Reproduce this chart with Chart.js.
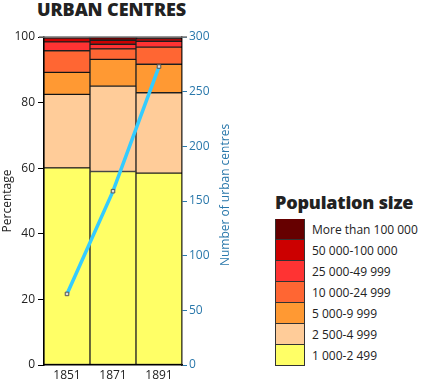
<!DOCTYPE html>
<html>
<head>
<meta charset="utf-8">
<script src="https://cdn.jsdelivr.net/npm/chart.js@4"></script>
<style>
  body { margin: 0; width: 421px; height: 385px; background: #fff; font-family: "Open Sans", sans-serif; overflow: hidden; }
  #wrap { position: absolute; left: 0; top: 0; width: 240px; height: 385px; }
  #title { position: absolute; left: 37px; top: -3px; font-size: 18px; font-weight: 800; color: #222; letter-spacing: -0.1px; }
  #legend { position: absolute; left: 275px; top: 190px; color: #222; }
  #legend .head { font-size: 18px; font-weight: 800; margin-bottom: 5px; letter-spacing: -0.2px; }
  #legend .row { display: flex; align-items: center; height: 21px; }
  #legend .box { width: 28px; height: 20px; border: 1px solid #333; border-top-width: 0; box-sizing: content-box; margin-right: 7px; }
  #legend .row:first-of-type .box { border-top-width: 1px; }
  #legend .lab { font-size: 12px; }
</style>
</head>
<body>
<div id="title">URBAN CENTRES</div>
<div id="wrap"><canvas id="urbanChart"></canvas></div>
<div id="legend"></div>
<script>
const years = ["1851", "1871", "1891"];
const sizeClasses = ["1 000-2 499", "2 500-4 999", "5 000-9 999", "10 000-24 999", "25 000-49 999", "50 000-100 000", "More than 100 000"];
const classColors = ["#ffff66", "#ffcc99", "#ff9933", "#ff6633", "#ff3333", "#cc0000", "#660000"];
// percentage of urban centres per size class, one array per class
const pct1000 = [60.1, 59.0, 58.5];
const pct2500 = [22.4, 26.0, 24.5];
const pct5000 = [6.7, 8.2, 8.7];
const pct10000 = [6.6, 3.2, 5.2];
const pct25000 = [2.7, 1.4, 1.8];
const pct50000 = [1.2, 1.2, 0.8];
const pct100000 = [0.3, 1.0, 0.5];
const centreCounts = [65, 159, 273];
const pctTicks = [0, 20, 40, 60, 80, 100];
const countTicks = [0, 50, 100, 150, 200, 250, 300];

const pctSeries = [pct1000, pct2500, pct5000, pct10000, pct25000, pct50000, pct100000];
const axisBlue = "#2a78ab";
const rightTitle = "Number of urban centres";

// grey frame line on top + right axis title reading upwards
const extras = {
  id: "extras",
  afterDatasetsDraw(chart) {
    const { ctx, chartArea } = chart;
    ctx.save();
    ctx.strokeStyle = "#777";
    ctx.lineWidth = 1.5;
    ctx.beginPath();
    ctx.moveTo(chartArea.left - 5, chartArea.top);
    ctx.lineTo(chartArea.right + 5, chartArea.top);
    ctx.stroke();
    ctx.translate(chartArea.right + 44, (chartArea.top + chartArea.bottom) / 2 - 6);
    ctx.rotate(-Math.PI / 2);
    ctx.fillStyle = axisBlue;
    ctx.font = '12px "Open Sans"';
    ctx.textAlign = "center";
    ctx.textBaseline = "middle";
    ctx.fillText(rightTitle, 0, 0);
    ctx.restore();
  }
};

const datasets = pctSeries.map((vals, i) => ({
  type: "bar",
  label: sizeClasses[i],
  data: vals,
  backgroundColor: classColors[i],
  borderColor: "rgba(0,0,0,0.85)",
  borderWidth: 1,
  borderSkipped: false,
  barPercentage: 1,
  categoryPercentage: 1,
  yAxisID: "y",
  order: 2,
}));

datasets.push({
  type: "line",
  label: rightTitle,
  data: centreCounts,
  yAxisID: "y2",
  borderColor: "#33ccff",
  borderWidth: 3.5,
  pointStyle: "rect",
  pointRadius: 2.5,
  pointBackgroundColor: "#dddddd",
  pointBorderColor: "#555",
  pointBorderWidth: 1,
  stack: "line",
  order: 0,
});

new Chart(document.getElementById("urbanChart"), {
  data: { labels: years, datasets },
  options: {
    responsive: true,
    maintainAspectRatio: false,
    animation: false,
    layout: { padding: { top: 37, left: 0, right: 0, bottom: 0 } },
    plugins: { legend: { display: false }, tooltip: { enabled: false } },
    scales: {
      x: {
        stacked: true,
        offset: true,
        grid: { display: false, drawTicks: false },
        border: { color: "#000", width: 1.5 },
        ticks: { color: "#222", font: { family: "Open Sans", size: 12 }, padding: 3 },
        afterFit: (s) => { s.height = 20; },
      },
      y: {
        stacked: true,
        min: 0,
        max: 100,
        position: "left",
        afterBuildTicks: (s) => { s.ticks = pctTicks.map((v) => ({ value: v })); },
        grid: { drawOnChartArea: false, color: "#000", tickLength: 6 },
        border: { color: "#000", width: 1.5 },
        ticks: { color: "#222", font: { family: "Open Sans", size: 12 }, padding: 3 },
        title: { display: true, text: "Percentage", color: "#222", font: { family: "Open Sans", size: 12 }, padding: 0 },
        afterFit: (s) => { s.width = 44; },
      },
      y2: {
        stacked: false,
        min: 0,
        max: 300,
        position: "right",
        afterBuildTicks: (s) => { s.ticks = countTicks.map((v) => ({ value: v })); },
        grid: { drawOnChartArea: false, color: axisBlue, tickLength: 5 },
        border: { color: "#222", width: 1.5 },
        ticks: { color: axisBlue, font: { family: "Open Sans", size: 12 }, padding: 2 },
        afterFit: (s) => { s.width = 58; },
      },
    },
  },
  plugins: [extras],
});

// legend, largest class on top
const legend = document.getElementById("legend");
legend.innerHTML = '<div class="head">Population size</div>' +
  sizeClasses.map((name, i) => ({ name, color: classColors[i] })).reverse()
    .map((c) => `<div class="row"><div class="box" style="background:${c.color}"></div><span class="lab">${c.name}</span></div>`)
    .join("");
</script>
</body>
</html>
